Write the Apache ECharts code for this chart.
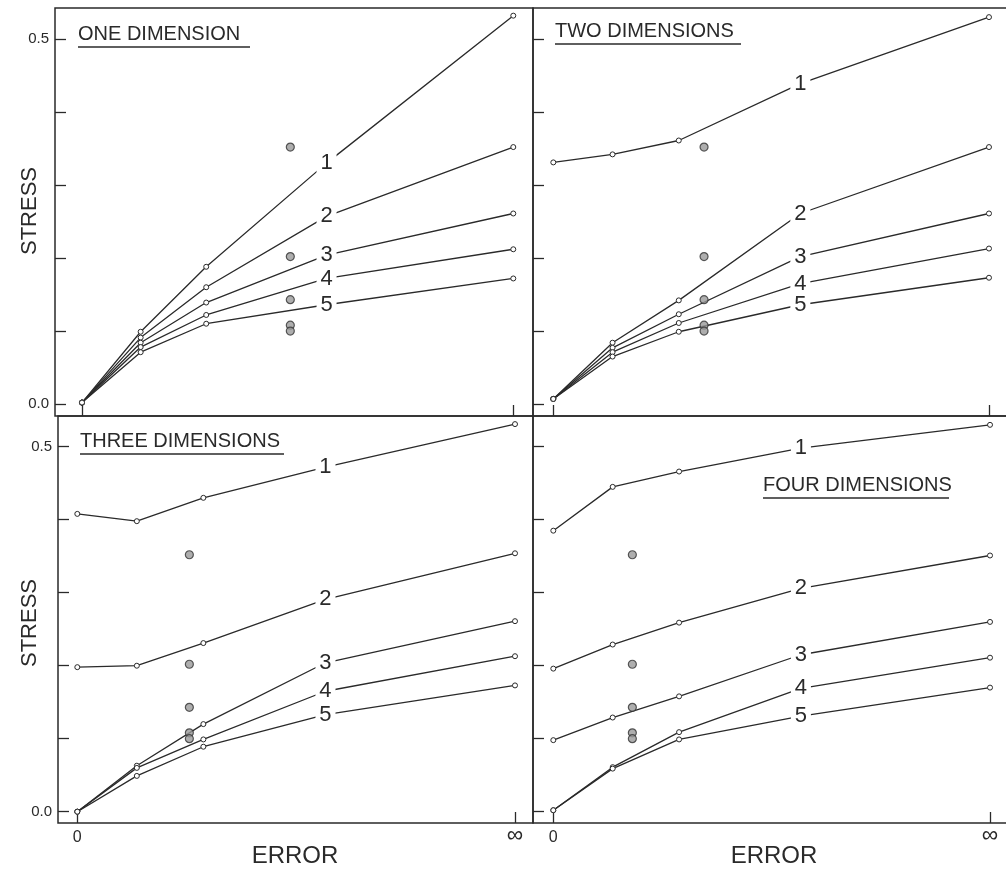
<!DOCTYPE html>
<html>
<head>
<meta charset="utf-8">
<script src="https://cdn.jsdelivr.net/npm/echarts@6/dist/echarts.min.js"></script>
<style>
  html, body { margin: 0; padding: 0; background: #fff; }
  #chart { width: 1006px; height: 871px; }
</style>
</head>
<body>
<div id="chart"></div>
<script>
// x positions of the points (0 error ... infinite error); the 4th one is
// the unmarked bend where the line number sits
var X_POS = [0, 0.136, 0.288, 0.567, 1];
var MARKED = [true, true, true, false, true];
var LINE_NAMES = ['1', '2', '3', '4', '5'];

// stress values, one row per line 1..5
var ONE_DIM = [
    [0.002, 0.099, 0.188, 0.330, 0.532],
    [0.002, 0.091, 0.160, 0.257, 0.352],
    [0.002, 0.084, 0.139, 0.204, 0.261],
    [0.002, 0.078, 0.122, 0.172, 0.212],
    [0.002, 0.071, 0.110, 0.136, 0.172]
];
var TWO_DIM = [
    [0.331, 0.342, 0.361, 0.439, 0.530],
    [0.007, 0.084, 0.142, 0.261, 0.352],
    [0.007, 0.077, 0.123, 0.202, 0.261],
    [0.007, 0.071, 0.111, 0.165, 0.213],
    [0.007, 0.065, 0.099, 0.136, 0.173]
];
var THREE_DIM = [
    [0.408, 0.398, 0.430, 0.472, 0.531],
    [0.198, 0.200, 0.231, 0.291, 0.354],
    [0.000, 0.063, 0.120, 0.204, 0.261],
    [0.000, 0.060, 0.099, 0.165, 0.213],
    [0.000, 0.049, 0.089, 0.133, 0.173]
];
var FOUR_DIM = [
    [0.385, 0.445, 0.466, 0.498, 0.530],
    [0.196, 0.229, 0.259, 0.306, 0.351],
    [0.098, 0.129, 0.158, 0.215, 0.260],
    [0.002, 0.061, 0.109, 0.169, 0.211],
    [0.002, 0.059, 0.099, 0.131, 0.170]
];

// isolated filled dots, same stress levels in every panel
var DOT_Y = [0.352, 0.202, 0.143, 0.108, 0.100];
var DOT_X = [0.483, 0.346, 0.256, 0.181];

var PANEL_TITLES = ['ONE DIMENSION', 'TWO DIMENSIONS', 'THREE DIMENSIONS', 'FOUR DIMENSIONS'];
var Y_TICKS = [0, 0.1, 0.2, 0.3, 0.4, 0.5];
var Y_TICK_LABELS = [0, 0.5];
var X_TICKS = [0, 1];
var X_TICK_LABELS = ['0', '{inf|∞}'];

var FONT = 'Liberation Sans';
var INK = '#2a2a2a';

// right-hand panels run past the page edge so their right border is not drawn
var panels = [
    { data: ONE_DIM, grid: { left: 55, top: 8, width: 478, height: 408 },
      xMin: -0.0626, xMax: 1.0457, yMin: -0.0164, yMax: 0.5425, yLab: true, xLab: false,
      title: [78, 34, 250] },
    { data: TWO_DIM, grid: { left: 533, top: 8, width: 482, height: 408 },
      xMin: -0.0466, xMax: 1.0597, yMin: -0.0164, yMax: 0.5425, yLab: false, xLab: false,
      title: [555, 31, 741] },
    { data: THREE_DIM, grid: { left: 58, top: 416, width: 475, height: 407 },
      xMin: -0.0441, xMax: 1.0411, yMin: -0.0155, yMax: 0.5421, yLab: true, xLab: true,
      title: [80, 441, 284] },
    { data: FOUR_DIM, grid: { left: 533, top: 416, width: 482, height: 407 },
      xMin: -0.0465, xMax: 1.0572, yMin: -0.0155, yMax: 0.5421, yLab: false, xLab: true,
      title: [763, 485, 949] }
];

var grids = [], xAxes = [], yAxes = [], series = [], graphics = [];

panels.forEach(function (p, i) {
    grids.push(Object.assign({ show: true, borderColor: INK, borderWidth: 1.5,
                               outerBoundsMode: 'none', containLabel: false }, p.grid));
    xAxes.push({
        type: 'value', gridIndex: i, min: p.xMin, max: p.xMax,
        axisLine: { show: false, onZero: false },
        splitLine: { show: false },
        axisTick: { show: true, inside: true, length: 11, customValues: X_TICKS,
                    lineStyle: { color: INK, width: 1.3 } },
        axisLabel: { show: p.xLab, customValues: X_TICKS, margin: 7,
                     fontFamily: FONT, fontSize: 16, color: INK, lineHeight: 16,
                     rich: { inf: { fontFamily: FONT, fontSize: 23, color: INK, lineHeight: 12 } },
                     formatter: function (v) { return X_TICK_LABELS[X_TICKS.indexOf(v)]; } }
    });
    yAxes.push({
        type: 'value', gridIndex: i, min: p.yMin, max: p.yMax,
        axisLine: { show: false, onZero: false },
        splitLine: { show: false },
        axisTick: { show: true, inside: true, length: 11, customValues: Y_TICKS,
                    lineStyle: { color: INK, width: 1.3 } },
        axisLabel: { show: p.yLab, customValues: Y_TICK_LABELS, margin: 6,
                     fontFamily: FONT, fontSize: 15, color: INK,
                     formatter: function (v) { return v.toFixed(1); } }
    });

    p.data.forEach(function (row, k) {
        series.push({
            type: 'line', xAxisIndex: i, yAxisIndex: i,
            data: row.map(function (v, j) {
                return MARKED[j] ? [X_POS[j], v] : { value: [X_POS[j], v], symbol: 'none' };
            }),
            symbol: 'circle', symbolSize: 5,
            itemStyle: { color: '#fff', borderColor: INK, borderWidth: 1 },
            lineStyle: { color: INK, width: 1.3 },
            z: 3,
            markPoint: {
                symbol: 'rect', symbolSize: [20, 22],
                itemStyle: { color: '#fff' },
                label: { show: true, position: 'inside', fontFamily: FONT, fontSize: 22,
                         color: INK, formatter: LINE_NAMES[k] },
                data: [{ coord: [X_POS[3], row[3]] }]
            }
        });
    });

    series.push({
        type: 'scatter', xAxisIndex: i, yAxisIndex: i,
        data: DOT_Y.map(function (v) { return [DOT_X[i], v]; }),
        symbol: 'circle', symbolSize: 8,
        itemStyle: { color: '#9a9a9a', borderColor: '#333', borderWidth: 1.2 },
        z: 4
    });

    // panel title, underlined
    graphics.push({
        type: 'text', x: p.title[0], y: p.title[1],
        style: { text: PANEL_TITLES[i], fill: INK, font: '20px "' + FONT + '"',
                 textVerticalAlign: 'middle', textAlign: 'left' }
    });
    graphics.push({
        type: 'line', shape: { x1: p.title[0], y1: p.title[1] + 13, x2: p.title[2], y2: p.title[1] + 13 },
        style: { stroke: INK, lineWidth: 1.6 }
    });
});

// axis names
[211, 623].forEach(function (cy) {
    graphics.push({
        type: 'text', x: 30, y: cy, rotation: Math.PI / 2,
        style: { text: 'STRESS', fill: INK, font: '22px "' + FONT + '"',
                 textAlign: 'center', textVerticalAlign: 'middle' }
    });
});
[295, 774].forEach(function (cx) {
    graphics.push({
        type: 'text', x: cx, y: 856,
        style: { text: 'ERROR', fill: INK, font: '24px "' + FONT + '"',
                 textAlign: 'center', textVerticalAlign: 'middle' }
    });
});

var chart = echarts.init(document.getElementById('chart'), null, { renderer: 'canvas' });
chart.setOption({
    backgroundColor: '#ffffff',
    animation: false,
    grid: grids,
    xAxis: xAxes,
    yAxis: yAxes,
    series: series,
    graphic: graphics
});
</script>
</body>
</html>
